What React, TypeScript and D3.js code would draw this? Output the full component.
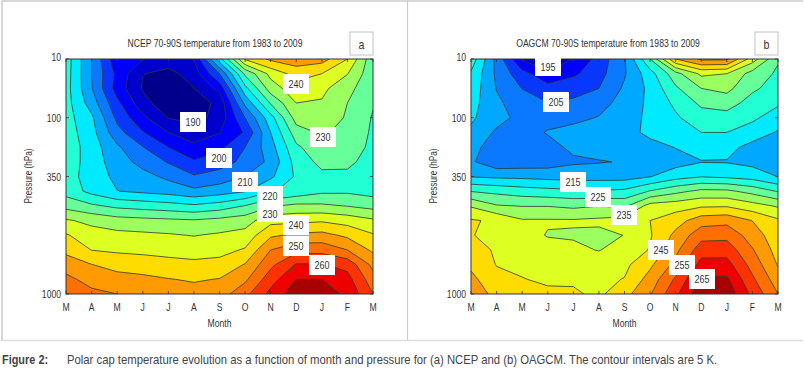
import React from "react";
import * as d3 from "d3";

const months = ["M", "A", "M", "J", "J", "A", "S", "O", "N", "D", "J", "F", "M"];
const pressureRows = [0, 4, 8, 16];
const pressureLabels = ["10", "100", "350", "1000"];
const levels = [190, 195, 200, 205, 210, 215, 220, 225, 230, 235, 240, 245, 250, 255, 260, 265];
const bandColors = ["#00008c", "#0000cc", "#0000ff", "#0838ff", "#0a78ff", "#00a8ff", "#00eaff", "#22ffd5", "#66ff99", "#9cff60", "#deff22", "#ffdc00", "#ff9a00", "#ff7000", "#ff3300", "#ee0000", "#a80000"];

// Temperature (K) read per month column, top (10 hPa) to bottom (1000 hPa)
const ncepColumns = [
  [222.5,222.3,222,222,222,222.5,223,223,222.4,223,228.3,235.6,240.5,243.7,247.7,251.3,253.5],
  [210,210,210.3,212.6,215.9,216.8,217.6,217.6,217.5,218.5,225.9,233.7,237.2,239.9,245.1,248.2,251.2],
  [196.2,198.6,197.8,201.2,203.7,206.8,210.8,212.4,213.9,215.1,223.8,232.1,236.4,239.2,243.2,246.9,250],
  [195,190.2,189.5,191.9,196.2,200.3,205.2,208.3,211.7,214,222.9,231.5,236,238.8,242.5,246.2,247.8],
  [193,188.3,187,186.5,189.8,195,200,204.6,208.9,213,222,231,235.5,238.4,241.6,245.2,247.3],
  [195,192.4,189.9,187,188.5,192.5,196.1,200.6,205.5,211.2,220.8,230.5,234.8,237.9,241.1,244.5,246.9],
  [218,205,196.6,191.5,191.5,194.8,198.6,202.6,207.2,212.6,222.3,231.5,235.7,238.4,241.6,245.2,247.6],
  [240.5,226,218.5,211.3,205,200.5,205,206.4,210,214.6,225.2,232.7,236.9,240.5,245.3,249,253.5],
  [246,236.5,232.5,225.5,218,215,213,211.2,214.1,219.5,229.4,238.4,244.2,250,253.8,257.8,261.5],
  [248,242,238,235,232.1,227.7,224.1,222,220.7,221.6,231.2,238.7,246,253.4,260.4,265,268],
  [247,240,236.3,234.5,232.7,230.8,228.4,226.4,223.8,224,230.9,239.4,246.6,253.3,260.4,265,267.5],
  [240,235.2,231.5,230,229.5,228.3,227.3,225.8,224.2,224.2,229.8,238,244,250,258.3,261.8,264],
  [226.5,226.5,226.5,225.4,224.6,224.3,224,223.5,222.8,223,228.3,235.8,240.5,244,248.6,252.1,255],
];
const oagcmColumns = [
  [223,219.4,218.2,217,215.8,214,211,210.7,214.7,224.8,234.5,240.5,240.2,241.7,244,246.3,248],
  [208.5,209,209.8,210.9,211.7,209.2,208.5,206.5,214,223.7,230.4,239.2,238.8,239.5,239.8,241.5,243.5],
  [194.5,201.8,204.9,207.5,208.5,208.2,207.5,207,213.8,222.4,229.8,235.5,237,238,238.9,240.2,241.8],
  [189,196.5,201.7,205.2,208.5,210.3,208.6,207.5,213.3,221.6,229.8,235.5,234.7,237,238.5,239.2,241],
  [195,199,203.6,205.7,209,211.3,210.9,209.3,213,221,228.9,235.5,234.5,236,238,239.3,240.7],
  [202,203.2,205,208.7,210.2,212,212,209.7,213,220.4,229.9,236,233.7,234.8,237.5,238.8,239],
  [209.6,209.5,210.8,211.3,212,213,212.5,210.3,213,221,229,237,235.1,237,238.8,240.2,243.3],
  [225,217.9,216.2,216.3,216.5,216.3,213.2,213,214.8,225.3,237,240,239.5,240.3,244,247,249.5],
  [245,228.2,224.2,221,219.3,218.2,215.2,213,218,228.6,237.8,242.9,246.3,248.7,251.5,255.8,259],
  [251,236,230,226,222.8,220,216.7,214.8,219.7,231.2,239.3,247.7,253.2,257.7,261.9,265.7,268.5],
  [251,235,231.4,227.2,223,220,216.7,214.7,219,231,239.5,248.5,253.5,257.8,261.9,265.8,268.5],
  [237.5,228,225.9,223,220.9,217.8,213.3,213.5,217.9,228.3,237,244.9,247.6,250.4,253.1,255.9,258.7],
  [225.5,224.2,222.8,220.7,217.6,214.5,212.5,212.5,214.9,224.6,234.4,240.8,241.9,243,244.6,247.2,250],
];

const ncepTitle = "NCEP 70-90S temperature from 1983 to 2009";
const oagcmTitle = "OAGCM 70-90S temperature from 1983 to 2009";
const captionHead = "Figure 2:";
const captionBody = "Polar cap temperature evolution as a function of month and pressure for (a) NCEP and (b) OAGCM. The contour intervals are 5 K.";
const ncepLabels = [
  { t: "190", x: 180, y: 112 }, { t: "200", x: 206, y: 148 }, { t: "210", x: 232, y: 172 },
  { t: "220", x: 257, y: 186 }, { t: "230", x: 257, y: 204 }, { t: "240", x: 283, y: 215 },
  { t: "250", x: 283, y: 236 }, { t: "260", x: 309, y: 255 }, { t: "240", x: 283, y: 74 },
  { t: "230", x: 310, y: 127 },
];
const oagcmLabels = [
  { t: "195", x: 535, y: 57 }, { t: "205", x: 543, y: 92 }, { t: "215", x: 560, y: 172 },
  { t: "225", x: 585, y: 187 }, { t: "235", x: 611, y: 205 }, { t: "245", x: 648, y: 240 },
  { t: "255", x: 669, y: 255 }, { t: "265", x: 689, y: 269 },
];
const sans = "'Liberation Sans',Arial,sans-serif";
const ink = "#333";
const plotTop = 59;
const plotBottom = 294;

type Label = { t: string; x: number; y: number };

function T({ x, y, size, sx = 0.82, anchor = "middle", rotate = 0, weight, fill = "#333", children }: any) {
  return (
    <text
      transform={`translate(${x},${y}) rotate(${rotate}) scale(${sx},1)`}
      textAnchor={anchor}
      fontSize={size}
      fontWeight={weight}
      fill={fill}
      fontFamily={sans}
    >
      {children}
    </text>
  );
}

function Panel({ columns, left, right, title, titleX, tag, labels, id }: { columns: number[][]; left: number; right: number; title: string; titleX: number; tag: string; labels: Label[]; id: string }) {
  const nx = columns.length;
  const ny = columns[0].length;
  const values: number[] = [];
  for (let r = 0; r < ny; r++) for (let c = 0; c < nx; c++) values.push(columns[c][r]);
  const xs = d3.scaleLinear().domain([0, nx - 1]).range([left, right]);
  const ys = d3.scaleLinear().domain([0, ny - 1]).range([plotTop, plotBottom]);
  const contours = d3.contours().size([nx, ny]).thresholds(levels)(values);
  const path = d3.geoPath(
    d3.geoTransform({
      point(x: number, y: number) {
        (this as any).stream.point(xs(x - 0.5), ys(y - 0.5));
      },
    })
  );
  return (
    <g>
      <clipPath id={id}>
        <rect x={left} y={plotTop} width={right - left} height={plotBottom - plotTop} />
      </clipPath>
      <T x={titleX} y={47} size={10.5}>{title}</T>
      <rect x={right - 23} y={32} width={23} height={23} fill="#fff" stroke="#ccc" strokeWidth={1.2} />
      <T x={right - 11.5} y={48.5} size={13}>{tag}</T>
      <g clipPath={`url(#${id})`}>
        <rect x={left} y={plotTop} width={right - left} height={plotBottom - plotTop} fill={bandColors[0]} />
        {contours.map((c: any, i: number) => (
          <path key={i} d={path(c) || ""} fill={bandColors[i + 1]} stroke="#2f3a2f" strokeWidth={0.8} strokeLinejoin="round" />
        ))}
      </g>
      {months.map((m, i) => (
        <g key={i}>
          <line x1={xs(i)} x2={xs(i)} y1={plotBottom} y2={plotBottom - 3} stroke={ink} strokeWidth={0.8} />
          <line x1={xs(i)} x2={xs(i)} y1={plotTop} y2={plotTop + 3} stroke={ink} strokeWidth={0.8} />
          <T x={xs(i)} y={310.5} size={10.5}>{m}</T>
        </g>
      ))}
      {pressureRows.map((r, i) => (
        <g key={i}>
          <line x1={left} x2={left + 3} y1={ys(r)} y2={ys(r)} stroke={ink} strokeWidth={0.8} />
          <line x1={right} x2={right - 3} y1={ys(r)} y2={ys(r)} stroke={ink} strokeWidth={0.8} />
          <T x={left - 5} y={ys(r) + (i === 0 ? 1.5 : 4)} size={10.5} anchor="end">{pressureLabels[i]}</T>
        </g>
      ))}
      <rect x={left} y={plotTop} width={right - left} height={plotBottom - plotTop} fill="none" stroke={ink} strokeWidth={1} />
      {labels.map((l, i) => (
        <g key={i}>
          <rect x={l.x} y={l.y} width={26} height={l.t === "195" ? 19 : l.t === "230" && l.y > 200 ? 18 : 20} fill="#fff" />
          <T x={l.x + 13} y={l.y + 14} size={11}>{l.t}</T>
        </g>
      ))}
      <T x={(left + right) / 2} y={326.5} size={10.5}>Month</T>
      <T x={left - 34} y={176} size={10.5} sx={0.78} rotate={-90}>Pressure (hPa)</T>
    </g>
  );
}

export default function App() {
  return (
    <svg width={805} height={368} style={{ position: "fixed", left: 0, top: 0, background: "#fff" }}>
      <path d="M2,341 V1 H803" fill="none" stroke="#ccc" strokeWidth={1.5} />
      <path d="M407.5,1 V341" fill="none" stroke="#ccc" strokeWidth={1.2} />
      <path d="M2,340.5 H803" fill="none" stroke="#ddd" strokeWidth={1.5} />
      <Panel id="clipA" columns={ncepColumns} left={66} right={373} title={ncepTitle} titleX={215} tag="a" labels={ncepLabels} />
      <Panel id="clipB" columns={oagcmColumns} left={471} right={778} title={oagcmTitle} titleX={608} tag="b" labels={oagcmLabels} />
      <T x={2} y={364} size={13} sx={0.84} anchor="start" weight="bold" fill="#444">{captionHead}</T>
      <T x={67} y={364} size={13} sx={0.87} anchor="start" fill="#444">{captionBody}</T>
    </svg>
  );
}
